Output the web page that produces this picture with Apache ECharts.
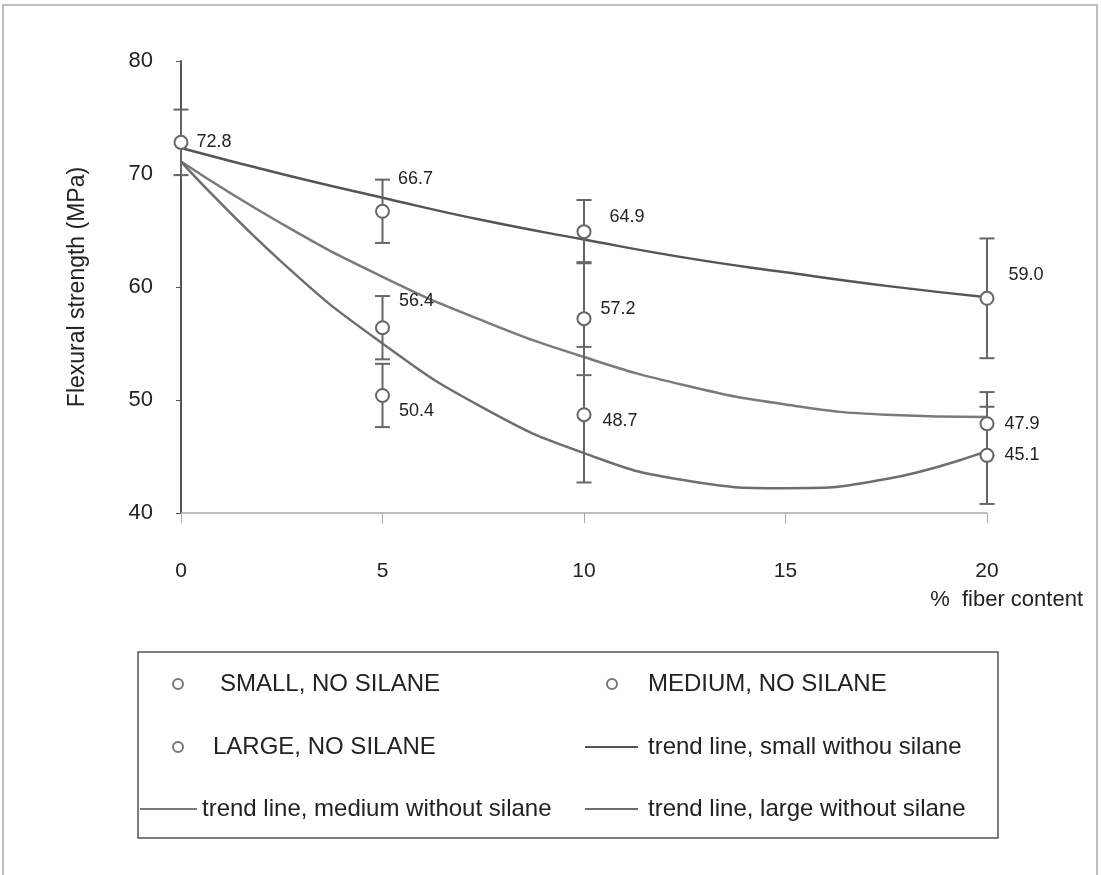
<!DOCTYPE html>
<html>
<head>
<meta charset="utf-8">
<script src="https://cdn.jsdelivr.net/npm/echarts@6/dist/echarts.min.js"></script>
<style>
html,body{margin:0;padding:0;background:#fff;}
#main{width:1101px;height:875px;}
</style>
</head>
<body>
<div id="main"></div>
<script>
// ---- data ----
const xSmall = [0, 5, 10, 20];
const ySmall = [72.8, 66.7, 64.9, 59.0];
const errSmall = [2.9, 2.8, 2.8, 5.3];

const xMedium = [5, 10, 20];
const yMedium = [56.4, 57.2, 47.9];
const errMedium = [2.8, 5.0, 2.8];

const xLarge = [5, 10, 20];
const yLarge = [50.4, 48.7, 45.1];
const errLarge = [2.8, 6.0, 4.3];

// trend lines
const trendX = [0, 2.5, 5, 7.5, 10, 12.5, 15, 17.5, 20];
const trendSmall = [72.3, 70.0, 67.9, 65.9, 64.2, 62.6, 61.3, 60.1, 59.1];
const trendMedium = [71.1, 65.6, 60.9, 57.0, 53.8, 51.3, 49.6, 48.7, 48.5];
const trendLarge = [71.1, 62.2, 55.0, 49.3, 45.3, 42.9, 42.2, 43.0, 45.5];

const xTicks = [0, 5, 10, 15, 20];
const yTicks = [40, 50, 60, 70, 80];

const names = {
  small: 'SMALL, NO SILANE',
  medium: 'MEDIUM, NO SILANE',
  large: 'LARGE, NO SILANE',
  tSmall: 'trend line, small withou silane',
  tMedium: 'trend line, medium without silane',
  tLarge: 'trend line, large without silane'
};

// label offsets (styling, not data)
const lblSmall = [[3, 0], [3, -32], [13, -15], [9, -23]];
const lblMedium = [[4, -27], [4, -10], [5, 0]];
const lblLarge = [[4, 16], [6, 6], [5, 0]];

const FONT = 'Liberation Sans, Arial, sans-serif';
const GRAY = '#666';
const C_SMALL = '#555';
const C_MED = '#7a7a7a';
const C_LARGE = '#6e6e6e';

function pts(xs, ys, offs) {
  return xs.map((x, i) => ({ value: [x, ys[i]], label: { offset: offs[i] } }));
}
function errs(xs, ys, es) {
  return xs.map((x, i) => [x, ys[i] - es[i], ys[i] + es[i]]);
}
function line(xs, ys) { return xs.map((x, i) => [x, ys[i]]); }

function errRender(params, api) {
  const x = api.value(0);
  const lo = api.coord([x, api.value(1)]);
  const hi = api.coord([x, api.value(2)]);
  const hw = 7.5;
  const st = { stroke: GRAY, lineWidth: 2 };
  return {
    type: 'group',
    children: [
      { type: 'line', shape: { x1: lo[0], y1: lo[1], x2: hi[0], y2: hi[1] }, style: st },
      { type: 'line', shape: { x1: lo[0] - hw, y1: lo[1], x2: lo[0] + hw, y2: lo[1] }, style: st },
      { type: 'line', shape: { x1: hi[0] - hw, y1: hi[1], x2: hi[0] + hw, y2: hi[1] }, style: st }
    ]
  };
}

function scatter(name, data) {
  return {
    name: name, type: 'scatter', data: data, z: 5,
    symbol: 'circle', symbolSize: 13,
    itemStyle: { color: '#fff', borderColor: GRAY, borderWidth: 2, opacity: 1 },
    label: {
      show: true, position: 'right', distance: 5,
      formatter: p => p.value[1].toFixed(1),
      fontFamily: FONT, fontSize: 18, color: '#222'
    },
    emphasis: { disabled: true }
  };
}
function trend(name, data, color, width) {
  return {
    name: name, type: 'line', data: data, smooth: 0.5, symbol: 'none', z: 2,
    lineStyle: { color: color, width: width }, itemStyle: { color: color },
    emphasis: { disabled: true }
  };
}
function errSeries(name, data) {
  return { name: name, type: 'custom', renderItem: errRender, data: data, z: 3, silent: true };
}

// legend drawn as graphic elements for exact placement
const LF = '24px "Liberation Sans", Arial, sans-serif';
function lgText(t, x, y) {
  return { type: 'text', x: x, y: y, silent: true,
    style: { text: t, font: LF, fill: '#222', verticalAlign: 'middle', align: 'left' } };
}
function lgCircle(x, y) {
  return { type: 'circle', shape: { cx: x, cy: y, r: 5 }, silent: true,
    style: { fill: '#fff', stroke: '#777', lineWidth: 2 } };
}
function lgLine(x1, x2, y, c) {
  return { type: 'line', shape: { x1: x1, y1: y, x2: x2, y2: y }, silent: true,
    style: { stroke: c, lineWidth: 2 } };
}
const R1 = 684, R2 = 747, R3 = 809;

const chart = echarts.init(document.getElementById('main'));
chart.setOption({
  backgroundColor: '#fff',
  animation: false,
  grid: { left: 181, right: 114, top: 61, bottom: 362, containLabel: false },
  xAxis: {
    type: 'value', min: 0, max: 20, interval: 5,
    name: '%  fiber content', nameLocation: 'end', nameGap: 96,
    nameTextStyle: { fontFamily: FONT, fontSize: 22, color: '#222', align: 'right', verticalAlign: 'top', padding: [76, 0, 0, 0] },
    axisLine: { lineStyle: { color: '#aaa', width: 1.5 } },
    axisTick: { show: true, length: 10, lineStyle: { color: '#aaa' } },
    axisLabel: { fontFamily: FONT, fontSize: 21, color: '#222', margin: 48,
      formatter: v => xTicks.includes(v) ? String(v) : '' },
    splitLine: { show: false }
  },
  yAxis: {
    type: 'value', min: 40, max: 80, interval: 10,
    name: 'Flexural strength (MPa)', nameLocation: 'middle', nameGap: 92,
    nameTextStyle: { fontFamily: FONT, fontSize: 23, color: '#222' },
    axisLine: { show: true, lineStyle: { color: '#555', width: 2 } },
    axisTick: { show: true, length: 5, lineStyle: { color: '#555' } },
    axisLabel: { fontFamily: FONT, fontSize: 22, color: '#222', margin: 28,
      formatter: v => yTicks.includes(v) ? String(v) : '' },
    splitLine: { show: false }
  },
  graphic: [
    { type: 'rect', shape: { x: 3, y: 5, width: 1094, height: 880 }, style: { fill: 'none', stroke: '#aaa', lineWidth: 1.5 }, silent: true },
    { type: 'rect', shape: { x: 138, y: 652, width: 860, height: 186 }, style: { fill: 'none', stroke: '#555', lineWidth: 1.5 }, silent: true },
    lgCircle(178, R1), lgText(names.small, 220, R1),
    lgCircle(612, R1), lgText(names.medium, 648, R1),
    lgCircle(178, R2), lgText(names.large, 213, R2),
    lgLine(585, 638, R2, C_SMALL), lgText(names.tSmall, 648, R2),
    lgLine(140, 197, R3, C_MED), lgText(names.tMedium, 202, R3),
    lgLine(585, 638, R3, C_LARGE), lgText(names.tLarge, 648, R3)
  ],
  series: [
    trend(names.tSmall, line(trendX, trendSmall), C_SMALL, 2.5),
    trend(names.tMedium, line(trendX, trendMedium), C_MED, 2.5),
    trend(names.tLarge, line(trendX, trendLarge), C_LARGE, 2.5),
    errSeries('errSmall', errs(xSmall, ySmall, errSmall)),
    errSeries('errMedium', errs(xMedium, yMedium, errMedium)),
    errSeries('errLarge', errs(xLarge, yLarge, errLarge)),
    scatter(names.small, pts(xSmall, ySmall, lblSmall)),
    scatter(names.medium, pts(xMedium, yMedium, lblMedium)),
    scatter(names.large, pts(xLarge, yLarge, lblLarge))
  ]
});
</script>
</body>
</html>
